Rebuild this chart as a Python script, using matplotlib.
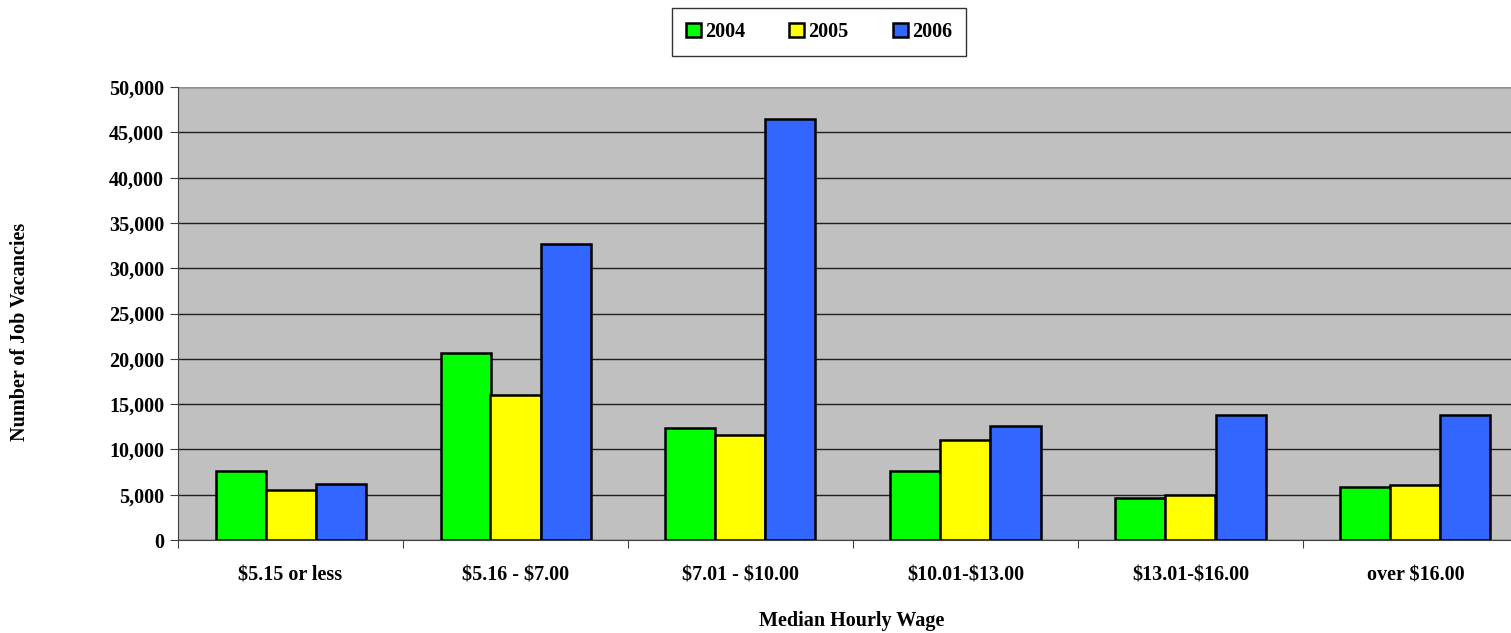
import matplotlib
matplotlib.use("Agg")
import matplotlib.pyplot as plt
import numpy as np
from matplotlib.ticker import FuncFormatter, MultipleLocator

categories = ["$5.15 or less", "$5.16 - $7.00", "$7.01 - $10.00",
              "$10.01-$13.00", "$13.01-$16.00", "over $16.00"]
years = ["2004", "2005", "2006"]
v2004 = [7630, 20650, 12350, 7670, 4680, 5900]
v2005 = [5530, 16040, 11620, 11060, 4980, 6080]
v2006 = [6200, 32630, 46460, 12540, 13750, 13750]
colors = ["#00FF00", "#FFFF00", "#3366FF"]

plt.rcParams['font.family'] = ['Liberation Serif', 'DejaVu Serif']
plt.rcParams['font.weight'] = 'bold'
plt.rcParams['text.parse_math'] = False

FS = 14.5
W, H = 1511, 633
fig = plt.figure(figsize=(W / 100, H / 100), dpi=100)
left, right, top, bottom = 178, 1528, 87, 540
ax = fig.add_axes([left / W, (H - bottom) / H, (right - left) / W, (bottom - top) / H])
ax.set_facecolor("#C0C0C0")

x = np.arange(len(categories))
bw = 1 / 4.5
series = [v2004, v2005, v2006]
for i, (vals, c, lab) in enumerate(zip(series, colors, years)):
    ax.bar(x + (i - 1) * bw, vals, width=bw, color=c, edgecolor="black",
           linewidth=1.8, label=lab, zorder=3)

ax.set_xlim(-0.5, len(categories) - 0.5)
ax.set_ylim(0, 50000)
ax.yaxis.set_major_locator(MultipleLocator(5000))
ax.yaxis.set_major_formatter(FuncFormatter(lambda v, p: f"{int(v):,}"))
ax.grid(axis="y", color="#202020", linewidth=1.0, zorder=1)
ax.set_axisbelow(True)

ax.set_xticks(np.arange(len(categories) + 1) - 0.5, minor=False)
ax.set_xticklabels([])
ax.set_xticks(x, minor=True)
ax.set_xticklabels(categories, minor=True, fontsize=FS, fontweight='bold')
ax.tick_params(axis="x", which="minor", length=0, pad=18)
ax.tick_params(axis="x", which="major", length=6, direction="out", color="#404040")
ax.tick_params(axis="y", length=6, direction="out", labelsize=FS, pad=4, color="#404040")
for lbl in ax.get_yticklabels():
    lbl.set_fontweight('bold')

for s in ["top", "right"]:
    ax.spines[s].set_visible(False)
ax.spines["left"].set_color("#404040")
ax.spines["bottom"].set_color("#404040")
ax.axhline(50000, color="#909090", linewidth=1.5, zorder=2)

fig.text(20 / W, 1 - 332 / H, "Number of Job Vacancies", rotation=90,
         ha="center", va="center", fontsize=FS, fontweight="bold")
fig.text(852 / W, 1 - 621 / H, "Median Hourly Wage", ha="center", va="center",
         fontsize=FS, fontweight="bold")

leg = fig.legend(loc="center", bbox_to_anchor=(819 / W, 1 - 32 / H), ncol=3,
                 frameon=True, fancybox=False, edgecolor="black",
                 prop={'weight': 'bold', 'size': FS}, handlelength=0.75,
                 handleheight=0.75, handletextpad=0.2, columnspacing=2.2,
                 borderpad=0.7, borderaxespad=0)
leg.get_frame().set_linewidth(1.0)

fig.savefig("out.png", dpi=100)
